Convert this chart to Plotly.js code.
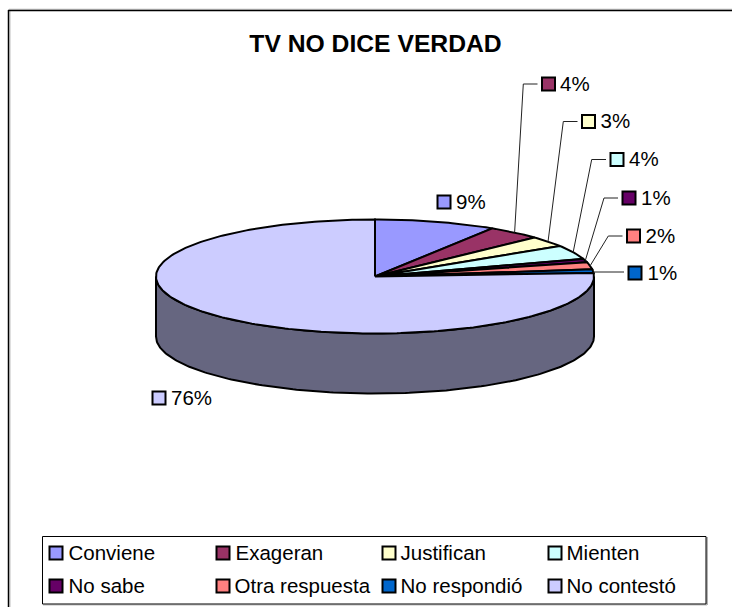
<!DOCTYPE html>
<html>
<head>
<meta charset="utf-8">
<script src="https://cdn.plot.ly/plotly-3.0.1.min.js"></script>
<style>html,body{margin:0;padding:0;background:#fff}#chart{width:732px;height:607px}</style>
</head>
<body>
<div id="chart"></div>
<script>
// ---- data ----
const categories = ["Conviene","Exageran","Justifican","Mienten","No sabe","Otra respuesta","No respondió","No contestó"];
const percents   = [9,4,3,4,1,2,1,76];
const colors     = ["#9999FF","#993366","#FFFFCC","#CCFFFF","#660066","#FF8080","#0066CC","#CCCCFF"];
const wallColor  = "#666680";
const chartTitle = "TV NO DICE VERDAD";

// ---- layout helpers (positions, in the page-sized axis units) ----
const cx = 375, cy = 276.5, rx = 219, ry = 57, depth = 60;
const labelX = [444,548.5,588.5,617,629,633.5,635,159];
const labelY = [202,84,121.5,159.5,198,236,273,398];
const labelTextGap = [12,11.5,12,12,12,12,12.5,12];
const kneeX = [null,523.3,563.3,591.7,604,608.3,null,null];
const legendX = [56,223,389,555,56,223,389,555];
const legendTextX = [68.5,235.5,400.5,566.5,68.5,234.5,400.5,566.5];
const legendY = [553,553,553,553,586,586,586,586];
const textDrop = 1.6;

const total = percents.reduce((a,b)=>a+b,0);
const rim = (frac) => {
  const t = frac*2*Math.PI;
  return [cx + rx*Math.sin(t), cy - ry*Math.cos(t)];
};
function arc(f0,f1){
  const n = Math.max(2,Math.ceil((f1-f0)*360));
  const pts=[];
  for(let i=0;i<=n;i++) pts.push(rim(f0+(f1-f0)*i/n));
  return pts;
}
const traces=[];
const line={color:"#000",width:2};

// front wall of the cylinder, belonging to the visible part of the last slices
const wallTop = arc(0.25,0.75);
const wallPts = wallTop.concat(wallTop.slice().reverse().map(p=>[p[0],p[1]+depth]));
wallPts.push(wallTop[0]);
traces.push({type:"scatter",mode:"lines",x:wallPts.map(p=>p[0]),y:wallPts.map(p=>p[1]),
  fill:"toself",fillcolor:wallColor,line:line,hoverinfo:"skip"});

// top slices
let acc=0;
const mids=[];
percents.forEach((v,i)=>{
  const f0=acc/total, f1=(acc+v)/total; acc+=v;
  mids.push((f0+f1)/2);
  const pts=[[cx,cy]].concat(arc(f0,f1)); pts.push([cx,cy]);
  traces.push({type:"scatter",mode:"lines",x:pts.map(p=>p[0]),y:pts.map(p=>p[1]),
    fill:"toself",fillcolor:colors[i],line:line,name:categories[i],
    text:categories[i]+": "+v+"%",hoverinfo:"text"});
});

// leader lines
percents.forEach((v,i)=>{
  if(i===0||i===7) return;
  const s=rim(mids[i]);
  const endX=labelX[i]-11;
  const xs = kneeX[i]===null ? [s[0],endX] : [s[0],kneeX[i],endX];
  const ys = kneeX[i]===null ? [labelY[i]-1,labelY[i]-1] : [s[1],labelY[i],labelY[i]];
  traces.push({type:"scatter",mode:"lines",x:xs,y:ys,line:{color:"#222",width:1},hoverinfo:"skip"});
});

// data label keys + text
traces.push({type:"scatter",mode:"markers",x:labelX,y:labelY,hoverinfo:"skip",
  marker:{symbol:"square",size:13,color:colors,line:{color:"#000",width:2}}});
traces.push({type:"scatter",mode:"text",x:labelX.map((x,i)=>x+labelTextGap[i]),y:labelY.map(y=>y+textDrop),
  text:percents.map(v=>v+"%"),textposition:"middle right",hoverinfo:"skip",
  textfont:{family:"Liberation Sans",size:20.5,color:"#000"}});

// legend keys + text
traces.push({type:"scatter",mode:"markers",x:legendX,y:legendY,hoverinfo:"skip",
  marker:{symbol:"square",size:13,color:colors,line:{color:"#000",width:2}}});
traces.push({type:"scatter",mode:"text",x:legendTextX,y:legendY.map(y=>y+textDrop),
  text:categories,textposition:"middle right",hoverinfo:"skip",
  textfont:{family:"Liberation Sans",size:20.5,color:"#000"}});

const layout={
  width:732,height:607,margin:{l:0,r:0,t:0,b:0},
  paper_bgcolor:"#fff",plot_bgcolor:"#fff",showlegend:false,
  title:{text:"<b>"+chartTitle+"</b>",x:375.5/732,xanchor:"center",y:1-43/607,yanchor:"middle",
    font:{family:"Liberation Sans",size:24.7,color:"#000"}},
  xaxis:{range:[0,732],visible:false,fixedrange:true},
  yaxis:{range:[607,0],visible:false,fixedrange:true},
  shapes:[
    {type:"line",xref:"x",yref:"y",x0:9,x1:732,y0:9.2,y1:9.2,line:{color:"#c0c0c0",width:1},layer:"below"},
    {type:"line",xref:"x",yref:"y",x0:10,x1:10,y0:11,y1:607,line:{color:"#c0c0c0",width:1},layer:"below"},
    {type:"line",xref:"x",yref:"y",x0:8,x1:732,y0:10.5,y1:10.5,line:{color:"#000",width:1.5},layer:"below"},
    {type:"line",xref:"x",yref:"y",x0:8.5,x1:8.5,y0:10,y1:607,line:{color:"#000",width:1.5},layer:"below"},
    {type:"line",xref:"x",yref:"y",x0:707,x1:707,y0:537,y1:605,line:{color:"#999",width:1.5},layer:"below"},
    {type:"line",xref:"x",yref:"y",x0:43,x1:707,y0:605,y1:605,line:{color:"#bbb",width:1},layer:"below"},
    {type:"rect",xref:"x",yref:"y",x0:42.5,x1:706,y0:536.5,y1:604,line:{color:"#000",width:1},fillcolor:"#fff",layer:"below"}
  ]
};
Plotly.newPlot("chart",traces,layout,{displayModeBar:false,staticPlot:true});
</script>
</body>
</html>
